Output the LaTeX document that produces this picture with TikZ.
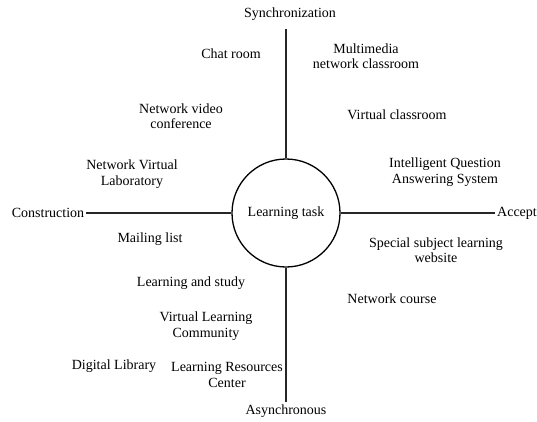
\documentclass[tikz,border=0pt]{standalone}
\usepackage{fontspec}
\setmainfont{Liberation Serif}
\usepackage{tikz}
\tikzset{
  task/.style={
    circle,
    draw=black, line width=1.3pt,
    minimum size=108pt,
    inner sep=0pt},
  axisend/.style={inner sep=2pt},
  item/.style={align=center, inner sep=0pt},
  axis/.style={draw, line width=1.7pt, black!85},
}

\begin{document}
\begin{tikzpicture}[x=1pt, y=-1pt, font=\fontsize{14}{15.5}\selectfont]
     \useasboundingbox (0,0) rectangle (537,422);
     \node[task] (LearningTask) at (286,213) {Learning task};
     % ends of the two axes
     \node[axisend, inner sep=8pt] (Sync)   at (290,14)  {Synchronization};
     \node[axisend] (Async)  at (286,411) {Asynchronous};
     \node[axisend] (Constr) at (48,213)  {Construction};
     \node[axisend] (Accept) at (517,213) {Accept};
     \path[axis] (LearningTask.north) -- (LearningTask.north |- Sync.south);
     \path[axis] (LearningTask.south) -- (LearningTask.south |- Async.north);
     \path[axis] (LearningTask.west)  -- (LearningTask.west -| Constr.east);
     \path[axis] (LearningTask.east)  -- (LearningTask.east -| Accept.west);
     % upper left
     \node[item] (ChatRoom)   at (231,54)  {Chat room};
     \node[item] (VideoConf)  at (181,116) {Network video\\conference};
     \node[item] (VirtualLab) at (132,174) {Network Virtual\\Laboratory};
     % upper right
     \node[item] (Multimedia) at (366,56)  {Multimedia\\network classroom};
     \node[item] (VirtualCls) at (397,115) {Virtual classroom};
     \node[item] (Answering)  at (445,172) {Intelligent Question\\Answering System};
     % lower left
     \node[item] (Mailing)    at (150,239) {Mailing list};
     \node[item] (Study)      at (191,283) {Learning and study};
     \node[item] (Community)  at (206,326) {Virtual Learning\\Community};
     \node[item] (Library)    at (114,366) {Digital Library};
     \node[item] (Resources)  at (227,375) {Learning Resources\\Center};
     % lower right
     \node[item] (Website)    at (436,250) {Special subject learning\\website};
     \node[item] (Course)     at (392,299) {Network course};
\end{tikzpicture}
\end{document}
